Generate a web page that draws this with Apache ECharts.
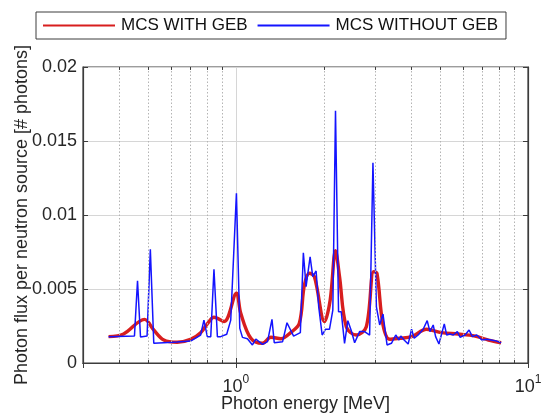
<!DOCTYPE html>
<html>
<head>
<meta charset="utf-8">
<script src="https://cdn.jsdelivr.net/npm/echarts@6/dist/echarts.min.js"></script>
<style>
  html, body { margin: 0; padding: 0; background: #fff; }
  #chart { width: 544px; height: 414px; }
</style>
</head>
<body>
<div id="chart"></div>
<script>
// Photon spectrum per neutron source, with and without Gaussian energy broadening
const seriesNames = ['MCS WITH GEB', 'MCS WITHOUT GEB'];

// Broadened spectrum (MeV, photons)
const energyGeb = [0.367, 0.413, 0.487, 0.524, 0.567, 0.630, 0.700, 0.758, 0.810, 0.842, 0.912,
  1.005, 1.040, 1.126, 1.234, 1.319, 1.428, 1.545, 1.650, 1.717, 1.786, 1.858, 2.012, 2.104,
  2.194, 2.265, 2.388, 2.585, 2.797, 2.963, 3.042, 3.190, 3.364, 3.641, 3.995, 4.497, 5.064,
  5.775, 6.592, 7.319, 8.093];
const fluxGeb = [0.00178, 0.00196, 0.00295, 0.00223, 0.00155, 0.00140, 0.00160, 0.00205, 0.00280,
  0.00309, 0.00280, 0.00471, 0.00336, 0.00167, 0.00133, 0.00174, 0.00164, 0.00207, 0.00268,
  0.00527, 0.00606, 0.00583, 0.00280, 0.00426, 0.00759, 0.00583, 0.00245, 0.00189, 0.00245,
  0.00617, 0.00606, 0.00257, 0.00160, 0.00167, 0.00178, 0.00228, 0.00205, 0.00196, 0.00182,
  0.00155, 0.00137];

// Unbroadened spectrum (MeV, photons)
const energyRaw = [0.367, 0.450, 0.461, 0.472, 0.497, 0.510, 0.524, 0.567, 0.630, 0.700, 0.758,
  0.778, 0.799, 0.821, 0.842, 0.865, 0.888, 0.931, 0.961, 1.005, 1.032, 1.054, 1.096, 1.140,
  1.171, 1.234, 1.284, 1.330, 1.354, 1.446, 1.497, 1.577, 1.663, 1.703, 1.740, 1.796, 1.834,
  1.883, 1.922, 1.975, 2.027, 2.092, 2.148, 2.194, 2.247, 2.295, 2.356, 2.418, 2.485, 2.551,
  2.653, 2.760, 2.871, 2.947, 3.028, 3.108, 3.190, 3.293, 3.409, 3.527, 3.621, 3.670, 3.767,
  3.889, 3.995, 4.078, 4.208, 4.378, 4.519, 4.617, 4.738, 4.829, 4.957, 5.170, 5.268, 5.408,
  5.551, 5.730, 5.853, 6.089, 6.285, 6.451, 6.679, 6.949, 7.230, 7.721, 8.093];
const fluxRaw = [0.00178, 0.00182, 0.00556, 0.00176, 0.00182, 0.00768, 0.00133, 0.00137, 0.00142,
  0.00148, 0.00189, 0.00290, 0.00178, 0.00178, 0.00633, 0.00178, 0.00178, 0.00194, 0.00290,
  0.01147, 0.00234, 0.00173, 0.00164, 0.00122, 0.00162, 0.00126, 0.00144, 0.00295, 0.00137,
  0.00144, 0.00272, 0.00182, 0.00205, 0.00745, 0.00516, 0.00718, 0.00583, 0.00622, 0.00380,
  0.00189, 0.00228, 0.00228, 0.00358, 0.01705, 0.00347, 0.00347, 0.00133, 0.00286, 0.00218,
  0.00137, 0.00212, 0.00212, 0.00189, 0.01353, 0.00380, 0.00257, 0.00331, 0.00122, 0.00133,
  0.00189, 0.00155, 0.00182, 0.00155, 0.00128, 0.00228, 0.00167, 0.00189, 0.00228, 0.00286,
  0.00212, 0.00257, 0.00178, 0.00128, 0.00264, 0.00189, 0.00196, 0.00189, 0.00212, 0.00174,
  0.00189, 0.00223, 0.00178, 0.00189, 0.00155, 0.00160, 0.00151, 0.00137];

// Axis ticks
const yTickLabels = ['0', '0.005', '0.01', '0.015', '0.02'];
const yMax = 0.02;
const yStep = 0.005;
const xMin = 0.3;
const xMax = 10;
const minorEnergies = [0.4, 0.5, 0.6, 0.7, 0.8, 0.9, 2, 3, 4, 5, 6, 7, 8, 9];

const textColor = '#262626';
const frameColor = '#3c3c3c';
const font = 'Liberation Sans, Arial, Helvetica, sans-serif';
const minorTickLen = 0.0002;

const toPairs = (xs, ys) => xs.map((x, i) => [x, ys[i]]);

const minorGrid = minorEnergies.map(e => ({ xAxis: e }));
const minorTicks = [];
minorEnergies.forEach(e => {
  minorTicks.push([{ coord: [e, 0] }, { coord: [e, minorTickLen] }]);
  minorTicks.push([{ coord: [e, yMax] }, { coord: [e, yMax - minorTickLen] }]);
});

const chart = echarts.init(document.getElementById('chart'), null, { renderer: 'canvas' });

chart.setOption({
  animation: false,
  backgroundColor: '#ffffff',
  textStyle: { fontFamily: font },
  legend: {
    left: 36,
    top: 12,
    padding: [5, 8, 5, 7],
    itemGap: 10,
    itemWidth: 72,
    itemHeight: 2,
    icon: 'rect',
    borderColor: frameColor,
    borderWidth: 1,
    backgroundColor: '#ffffff',
    textStyle: { fontSize: 17, color: '#111', fontFamily: font, padding: [0, 0, 0, 1] },
    data: seriesNames
  },
  grid: {
    left: 83,
    right: 16,
    top: 67,
    bottom: 51,
    outerBoundsMode: 'none',
    containLabel: false,
    show: true,
    borderColor: frameColor,
    borderWidth: 1.2,
    backgroundColor: '#ffffff'
  },
  xAxis: [{
    type: 'log',
    logBase: 10,
    min: xMin,
    max: xMax,
    name: 'Photon energy [MeV]',
    nameLocation: 'middle',
    nameGap: 32,
    nameMoveOverlap: false,
    nameTextStyle: { fontSize: 18, color: textColor, fontFamily: font },
    axisLine: { show: true, lineStyle: { color: frameColor, width: 1.2 } },
    axisTick: { show: true, inside: true, length: 5, lineStyle: { color: frameColor } },
    splitLine: { show: true, lineStyle: { color: '#d6d6d6', width: 1 } },
    axisLabel: {
      showMinLabel: false,
      margin: 11,
      color: textColor,
      formatter: v => {
        const p = Math.round(Math.log10(v));
        if (Math.abs(Math.log10(v) - p) > 1e-6) return '';
        return '{b|10}{s|' + p + '}';
      },
      rich: {
        b: { fontSize: 18, color: textColor, fontFamily: font, verticalAlign: 'bottom' },
        s: { fontSize: 12, color: textColor, fontFamily: font, verticalAlign: 'top', padding: [0, 0, 10, 0] }
      }
    }
  }, {
    type: 'log',
    logBase: 10,
    min: xMin,
    max: xMax,
    position: 'top',
    axisLine: { show: true, lineStyle: { color: frameColor, width: 1.2 } },
    axisTick: { show: true, inside: true, length: 5, lineStyle: { color: frameColor } },
    axisLabel: { show: false },
    splitLine: { show: false }
  }],
  yAxis: [{
    type: 'value',
    min: 0,
    max: yMax,
    interval: yStep,
    name: 'Photon flux per neutron source [# photons]',
    nameLocation: 'middle',
    nameGap: 52,
    nameMoveOverlap: false,
    nameTextStyle: { fontSize: 18, color: textColor, fontFamily: font },
    axisLine: { show: true, lineStyle: { color: frameColor, width: 1.2 } },
    axisTick: { show: true, inside: true, length: 5, lineStyle: { color: frameColor } },
    splitLine: { show: true, lineStyle: { color: '#d6d6d6', width: 1 } },
    axisLabel: {
      margin: 6,
      fontSize: 18,
      color: textColor,
      formatter: v => yTickLabels[Math.round(v / yStep)]
    }
  }, {
    type: 'value',
    min: 0,
    max: yMax,
    interval: yStep,
    position: 'right',
    axisLine: { show: true, lineStyle: { color: frameColor, width: 1.2 } },
    axisTick: { show: true, inside: true, length: 5, lineStyle: { color: frameColor } },
    axisLabel: { show: false },
    splitLine: { show: false }
  }],
  series: [{
    // minor decade grid and ticks
    type: 'line',
    data: [],
    silent: true,
    z: 1,
    markLine: {
      silent: true,
      symbol: ['none', 'none'],
      label: { show: false },
      animation: false,
      lineStyle: { color: '#b4b4b4', width: 1, type: [1.5, 2] },
      emphasis: { disabled: true },
      data: minorGrid.concat(minorTicks.map(p => [
        Object.assign({ lineStyle: { color: frameColor, type: 'solid', width: 1 } }, p[0]),
        p[1]
      ]))
    }
  }, {
    name: seriesNames[0],
    type: 'line',
    data: toPairs(energyGeb, fluxGeb),
    showSymbol: false,
    symbol: 'none',
    smooth: 0.35,
    z: 3,
    color: '#d81e1e',
    lineStyle: { color: '#d81e1e', width: 3.4 }
  }, {
    name: seriesNames[1],
    type: 'line',
    data: toPairs(energyRaw, fluxRaw),
    showSymbol: false,
    symbol: 'none',
    z: 4,
    color: '#1414ff',
    lineStyle: { color: '#1414ff', width: 1.5 }
  }]
});
</script>
</body>
</html>
